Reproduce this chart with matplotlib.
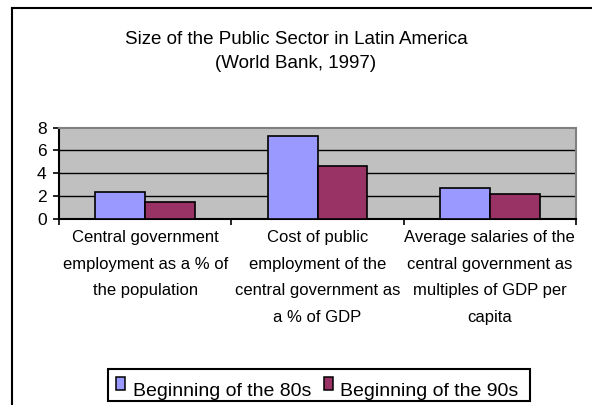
import matplotlib.pyplot as plt
import matplotlib.patches as mpatches
from matplotlib.lines import Line2D
from matplotlib import font_manager

# Public sector size indicators, two periods
categories = [
    "Central government\nemployment as a % of\nthe population",
    "Cost of public\nemployment of the\ncentral government as\na % of GDP",
    "Average salaries of the\ncentral government as\nmultiples of GDP per\ncapita",
]
series_names = ["Beginning of the 80s", "Beginning of the 90s"]
values_80s = [2.4, 7.3, 2.7]
values_90s = [1.5, 4.6, 2.2]
y_ticks = [0, 2, 4, 6, 8]

colors = ["#9999FF", "#993366"]
font = "Liberation Sans"

# condensed face for the category labels if one is installed
installed = {f.name for f in font_manager.fontManager.ttflist}
if "Liberation Sans Narrow" in installed:
    cat_family, cat_size, cat_spacing = "Liberation Sans Narrow", 14.5, 1.65
else:
    cat_family, cat_size, cat_spacing = font, 12, 1.98

W, H = 592, 405
fig = plt.figure(figsize=(W / 100, H / 100), dpi=100)

# plot area in pixel coordinates
left, right, top, bottom = 59, 576, 127.5, 219
ax = fig.add_axes([left / W, 1 - bottom / H, (right - left) / W, (bottom - top) / H])
ax.set_facecolor("#C0C0C0")

bar_w = 0.29
xs = range(len(categories))
ax.bar([x - bar_w / 2 for x in xs], values_80s, bar_w, color=colors[0],
       edgecolor="black", linewidth=1.2, zorder=3)
ax.bar([x + bar_w / 2 for x in xs], values_90s, bar_w, color=colors[1],
       edgecolor="black", linewidth=1.2, zorder=3)

ax.set_xlim(-0.5, len(categories) - 0.5)
ax.set_ylim(0, 8)
ax.set_yticks(y_ticks)
ax.set_yticklabels([str(t) for t in y_ticks], fontname=font, fontsize=12.5)
ax.set_xticks([x - 0.5 for x in range(len(categories) + 1)])
ax.set_xticklabels([])
ax.tick_params(axis="y", direction="out", length=4, width=1.2, pad=5)
ax.tick_params(axis="x", direction="out", length=4, width=1.2)

# horizontal gridlines
for t in y_ticks[1:-1]:
    ax.axhline(t, color="black", linewidth=1, zorder=1)

for side in ("left", "bottom"):
    ax.spines[side].set_color("black")
    ax.spines[side].set_linewidth(1.5)
for side in ("top", "right"):
    ax.spines[side].set_color("#808080")
    ax.spines[side].set_linewidth(1.5)

# category labels under the axis
for x, label in zip(xs, categories):
    ax.text(x, -0.12, label, transform=ax.get_xaxis_transform(),
            ha="center", va="top", family=cat_family, fontsize=cat_size,
            linespacing=cat_spacing)

# title
fig.text(0.5, 1 - 40 / H, "Size of the Public Sector in Latin America",
         ha="center", va="center", fontname=font, fontsize=13.5)
fig.text(0.5, 1 - 64 / H, "(World Bank, 1997)",
         ha="center", va="center", fontname=font, fontsize=13.5)

# outer chart frame (runs off the right and bottom edges)
fig.add_artist(Line2D([12 / W, 12 / W], [0, 1 - 8 / H], color="black", linewidth=1.5))
fig.add_artist(Line2D([12 / W, 1], [1 - 8 / H, 1 - 8 / H], color="black", linewidth=1.5))

# legend box
lx0, lx1, ly0, ly1 = 108, 530, 369, 401
fig.add_artist(mpatches.Rectangle((lx0 / W, 1 - ly1 / H), (lx1 - lx0) / W, (ly1 - ly0) / H,
                                  transform=fig.transFigure, fill=False,
                                  edgecolor="black", linewidth=1.5, zorder=5))
entries = [(116, 133), (324, 340)]
for (sx, tx), name, c in zip(entries, series_names, colors):
    fig.add_artist(mpatches.Rectangle((sx / W, 1 - 390 / H), 9 / W, 13 / H,
                                      transform=fig.transFigure, facecolor=c,
                                      edgecolor="black", linewidth=1.1))
    fig.text(tx / W, 1 - 396 / H, name, ha="left", va="baseline",
             fontname=font, fontsize=14)

fig.savefig("out.png", dpi=100)
